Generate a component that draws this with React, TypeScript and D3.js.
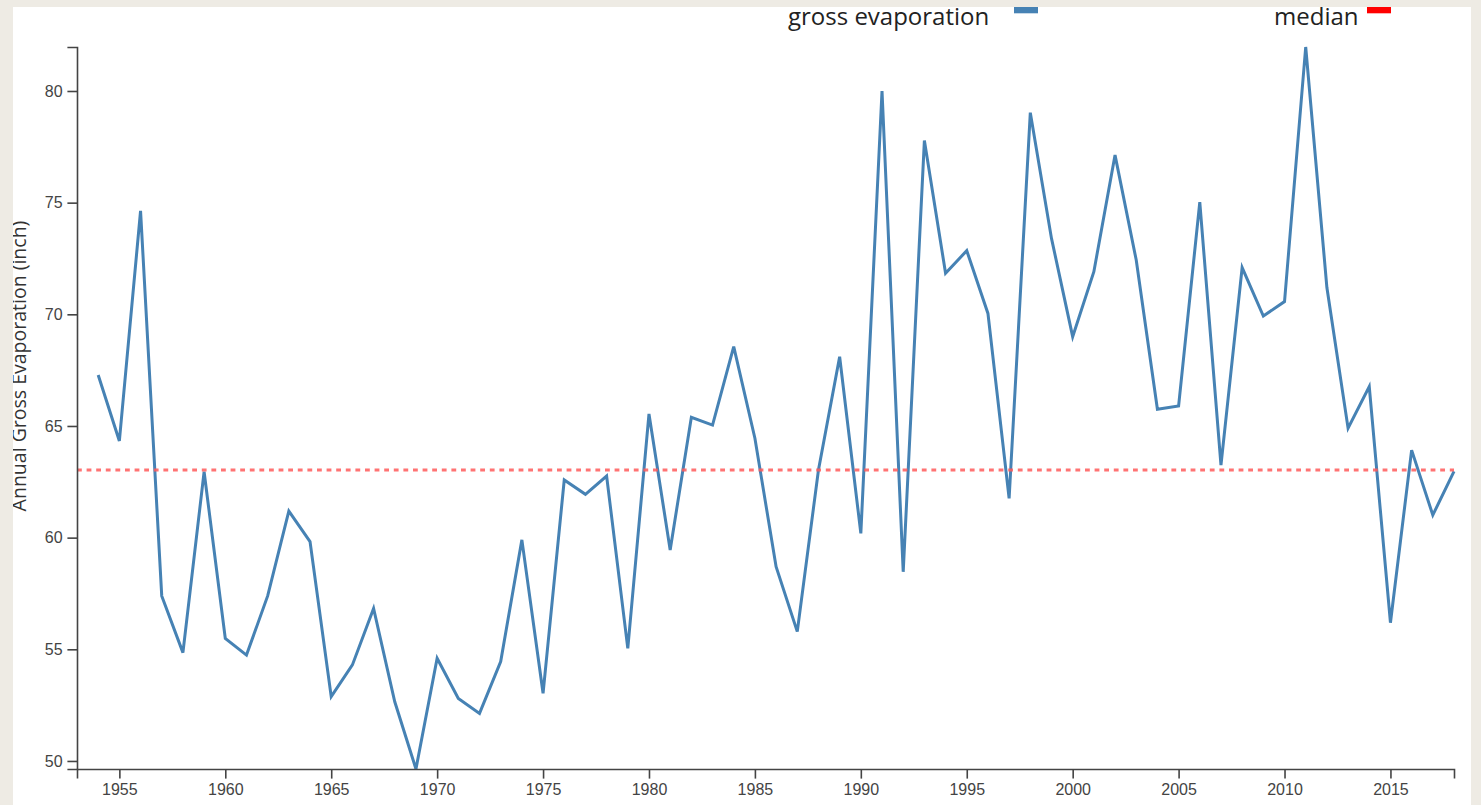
import React, { useEffect, useRef } from "react";
import * as d3 from "d3";

const years: number[] = [
  1954, 1955, 1956, 1957, 1958, 1959, 1960, 1961, 1962, 1963, 1964, 1965, 1966,
  1967, 1968, 1969, 1970, 1971, 1972, 1973, 1974, 1975, 1976, 1977, 1978, 1979,
  1980, 1981, 1982, 1983, 1984, 1985, 1986, 1987, 1988, 1989, 1990, 1991, 1992,
  1993, 1994, 1995, 1996, 1997, 1998, 1999, 2000, 2001, 2002, 2003, 2004, 2005,
  2006, 2007, 2008, 2009, 2010, 2011, 2012, 2013, 2014, 2015, 2016, 2017, 2018,
];

const evaporation: number[] = [
  67.28, 64.33, 74.63, 57.39, 54.85, 62.95, 55.49, 54.74, 57.39, 61.19, 59.82, 52.88, 54.3,
  56.83, 52.65, 49.64, 54.6, 52.8, 52.13, 54.45, 59.9, 53.03, 62.58, 61.94, 62.76, 55.04,
  65.54, 59.45, 65.39, 65.04, 68.55, 64.45, 58.7, 55.79, 63.03, 68.1, 60.19, 80.0, 58.47,
  77.78, 71.84, 72.85, 70.04, 61.76, 79.03, 73.4, 69.0, 71.91, 77.13, 72.43, 65.75, 65.9,
  75.02, 63.25, 72.09, 69.92, 70.57, 81.97, 71.2, 64.9, 66.76, 56.19, 63.92, 61.01, 62.97,
];

const xDomainStart = 1953;
const yTickValues: number[] = [50, 55, 60, 65, 70, 75, 80];
const legendLabels: string[] = ["gross evaporation", "median"];
const legendColors: string[] = ["steelblue", "#ff0000"];
const yAxisTitle = "Annual Gross Evaporation (inch)";

const W = 1458;
const H = 798;
const M = { left: 64, right: 17, top: 40, bottom: 36 };

export default function App() {
  const xAxisRef = useRef<SVGGElement>(null);
  const yAxisRef = useRef<SVGGElement>(null);

  const data = years.map((y, i) => ({ year: y, value: evaporation[i] }));
  const x = d3
    .scaleLinear()
    .domain([xDomainStart, d3.max(years) as number])
    .range([M.left, W - M.right]);
  const yExt = d3.extent(evaporation) as [number, number];
  const y = d3.scaleLinear().domain(yExt).range([H - M.bottom, M.top]);
  const median = d3.median(evaporation) as number;

  const line = d3
    .line<{ year: number; value: number }>()
    .x((d) => x(d.year))
    .y((d) => y(d.value));

  useEffect(() => {
    const xa = d3
      .axisBottom(x)
      .tickFormat(d3.format("d"))
      .tickSize(9.6)
      .tickPadding(4.8);
    const ya = d3
      .axisLeft(y)
      .tickValues(yTickValues)
      .tickFormat(d3.format("d"))
      .tickSize(9.6)
      .tickPadding(4.8);
    const gx = d3.select(xAxisRef.current!);
    gx.call(xa as any);
    const gy = d3.select(yAxisRef.current!);
    gy.call(ya as any);
    [gx, gy].forEach((g) => {
      g.attr("font-size", 16).attr("font-family", "'Liberation Sans', Arial, sans-serif");
      g.selectAll("path, line").attr("stroke", "#444").attr("stroke-width", 1.6);
      g.selectAll("text").attr("fill", "#444");
    });
  });

  return (
    <div
      style={{
        position: "fixed",
        left: 0,
        top: 0,
        width: 1481,
        height: 805,
        background: "#eeebe4",
        overflow: "hidden",
      }}
    >
      <svg
        width={W}
        height={H}
        style={{ position: "absolute", left: 13, top: 7, background: "#fff", overflow: "hidden" }}
      >
        <path
          d={line(data) || ""}
          fill="none"
          stroke="steelblue"
          strokeWidth={3}
          strokeLinejoin="miter"
        />
        <line
          x1={x(xDomainStart)}
          x2={x(d3.max(years) as number)}
          y1={y(median)}
          y2={y(median)}
          stroke="#ff5a5a"
          strokeOpacity={0.85}
          strokeWidth={3}
          strokeDasharray="4.8,4.8"
        />
        <g ref={xAxisRef} transform={`translate(0,${H - M.bottom})`} />
        <g ref={yAxisRef} transform={`translate(${M.left},0)`} />
        <text
          transform={`translate(13,${359}) rotate(-90)`}
          textAnchor="middle"
          fontFamily="'Open Sans', sans-serif"
          fontSize={19.5}
          fill="#333"
        >
          {yAxisTitle}
        </text>
        <g fontFamily="'Open Sans', sans-serif" fontSize={24} fill="#222">
          <text x={775} y={18}>
            {legendLabels[0]}
          </text>
          <rect x={1001} y={0} width={24} height={6.3} fill={legendColors[0]} />
          <text x={1261} y={18}>
            {legendLabels[1]}
          </text>
          <rect x={1354} y={0} width={24} height={6.3} fill={legendColors[1]} />
        </g>
      </svg>
    </div>
  );
}
